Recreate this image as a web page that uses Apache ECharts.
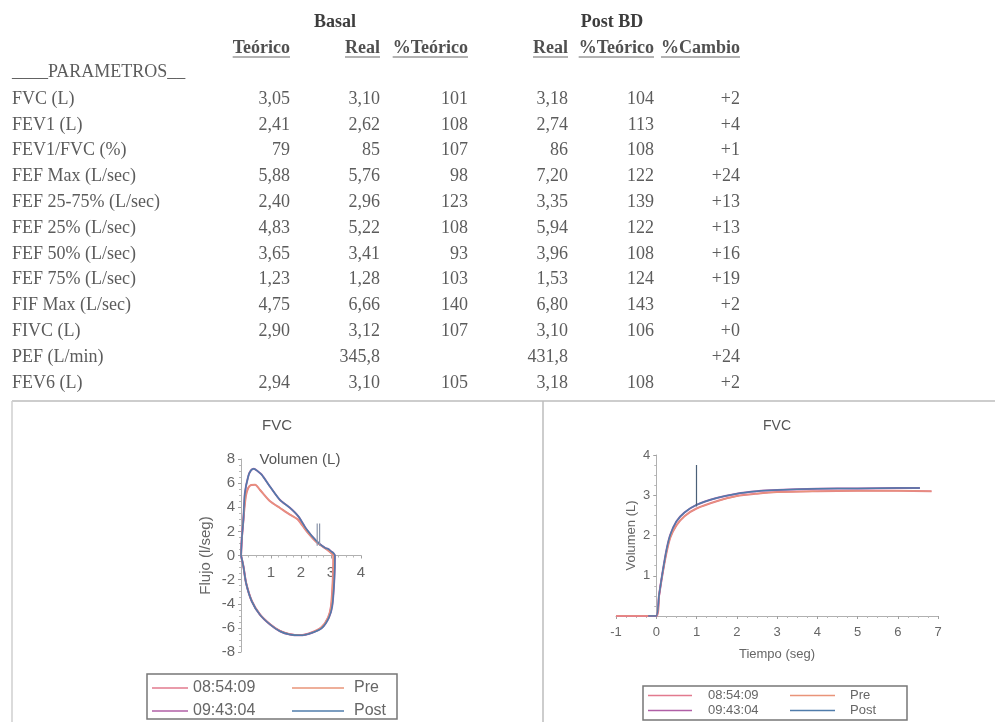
<!DOCTYPE html>
<html>
<head>
<meta charset="utf-8">
<script src="https://cdn.jsdelivr.net/npm/echarts@6/dist/echarts.min.js"></script>
<style>
html,body{margin:0;padding:0;background:#fff;}
#main{width:995px;height:722px;}
</style>
</head>
<body>
<div id="main"></div>
<script>
// tabla de parametros
var paramNames=['FVC (L)','FEV1 (L)','FEV1/FVC (%)','FEF Max (L/sec)','FEF 25-75% (L/sec)','FEF 25% (L/sec)','FEF 50% (L/sec)','FEF 75% (L/sec)','FIF Max (L/sec)','FIVC (L)','PEF (L/min)','FEV6 (L)'];
var teorico=['3,05','2,41','79','5,88','2,40','4,83','3,65','1,23','4,75','2,90','','2,94'];
var basalReal=['3,10','2,62','85','5,76','2,96','5,22','3,41','1,28','6,66','3,12','345,8','3,10'];
var basalPct=['101','108','107','98','123','108','93','103','140','107','','105'];
var postReal=['3,18','2,74','86','7,20','3,35','5,94','3,96','1,53','6,80','3,10','431,8','3,18'];
var postPct=['104','113','108','122','139','122','108','124','143','106','','108'];
var cambio=['+2','+4','+1','+24','+13','+13','+16','+19','+2','+0','+24','+2'];
var colHeaders=['Teórico','Real','%Teórico','Real','%Teórico','%Cambio'];

// curva flujo-volumen [volumen, flujo]
var preLoop=[[0,0],[0.03,1.5],[0.08,3.0],[0.16,4.9],[0.24,5.6],[0.34,5.85],[0.47,5.87],[0.63,5.45],[0.97,4.49],[1.3,3.94],[1.63,3.39],[1.9,2.97],[2.19,2.0],[2.52,1.1],[2.86,0.5],[3.06,0.08],[3.08,0],
    [3.06,-2.0],[3.0,-4.2],[2.9,-5.15],[2.68,-5.95],[2.35,-6.38],[1.97,-6.6],[1.63,-6.52],[1.3,-6.25],[0.97,-5.7],[0.63,-4.88],[0.36,-3.77],[0.17,-2.26],[0.08,-0.9],[0,0]];
var postLoop=[[0,0],[0.03,1.5],[0.08,2.97],[0.13,5.18],[0.24,6.55],[0.33,7.05],[0.43,7.2],[0.55,7.0],[0.69,6.7],[0.97,5.7],[1.3,4.6],[1.63,3.96],[1.91,3.25],[2.19,2.15],[2.52,1.18],[2.8,0.63],[2.9,0.55],[3.0,0.35],[3.08,0.2],[3.13,0],
    [3.11,-2.0],[3.04,-4.2],[2.93,-5.15],[2.7,-6.0],[2.37,-6.4],[1.97,-6.62],[1.63,-6.55],[1.3,-6.28],[0.97,-5.72],[0.63,-4.9],[0.36,-3.8],[0.17,-2.3],[0.08,-0.9],[0,0]];
var loopMark1=[[2.54,0.8],[2.54,2.65]];
var loopMark2=[[2.62,0.8],[2.62,2.65]];

// curva volumen-tiempo [tiempo, volumen]
var preVT=[[-1,0],[0,0],[0.07,0.5],[0.14,0.95],[0.25,1.55],[0.35,1.95],[0.5,2.25],[0.7,2.48],[1.0,2.67],[1.5,2.85],[2.0,2.98],[2.5,3.04],[3.0,3.08],[4.0,3.1],[5.0,3.11],[6.0,3.11],[6.84,3.1]];
var postVT=[[-0.2,0],[0,0],[0.07,0.52],[0.14,0.98],[0.25,1.62],[0.35,2.02],[0.5,2.35],[0.7,2.57],[1.0,2.76],[1.5,2.93],[2.0,3.04],[2.5,3.1],[3.0,3.13],[4.0,3.16],[5.0,3.17],[6.0,3.18],[6.55,3.18]];
var fev1Mark=[[1,2.72],[1,3.75]];

var colors={'08:54:09':'#e27a8e','09:43:04':'#b05fa6','Pre':'#e99479','Post':'#4f7cab'};

var serif='"Liberation Serif", "Times New Roman", serif';
var sans='"Liberation Sans", Arial, sans-serif';
var tableColor='#5c5c5c';

var ctx=document.createElement('canvas').getContext('2d');
function textWidth(t,font){ctx.font=font;return ctx.measureText(t).width;}

function txt(t,x,y,opt){
    opt=opt||{};
    return {
        type:'text',x:x,y:y,silent:true,
        style:{
            text:t,
            align:opt.align||'left',
            verticalAlign:'middle',
            fontFamily:opt.family||serif,
            fontSize:opt.size||18,
            fontWeight:opt.weight||'normal',
            fill:opt.color||tableColor
        }
    };
}
function line(x1,y1,x2,y2,color,w){
    return {type:'line',silent:true,shape:{x1:x1,y1:y1,x2:x2,y2:y2},style:{stroke:color,lineWidth:w}};
}

var graphic=[];
var colRight=[290,380,468,568,654,740];
var headY=48;
graphic.push(txt('Basal',335,22,{align:'center',weight:'bold',color:'#3c3c3c'}));
graphic.push(txt('Post BD',612,22,{align:'center',weight:'bold',color:'#3c3c3c'}));
colHeaders.forEach(function(h,i){
    graphic.push(txt(h,colRight[i],headY,{align:'right',weight:'bold',color:'#505050'}));
    var w=textWidth(h,'bold 18px '+serif);
    graphic.push(line(colRight[i]-w,headY+9,colRight[i],headY+9,'#666',1));
});
graphic.push(txt('____PARAMETROS__',12,72));
var cols=[teorico,basalReal,basalPct,postReal,postPct,cambio];
paramNames.forEach(function(p,r){
    var y=99+r*25.8;
    graphic.push(txt(p,12,y));
    cols.forEach(function(c,i){
        if(c[r]) graphic.push(txt(c[r],colRight[i],y,{align:'right'}));
    });
});
// marcos de los paneles
graphic.push(line(12,401,995,401,'#bdbdbd',1.5));
graphic.push(line(12,401,12,722,'#cfcfcf',1.5));
graphic.push(line(543,401,543,722,'#bdbdbd',1.5));
graphic.push(txt('FVC',277,426,{align:'center',family:sans,size:15,color:'#555'}));
graphic.push(txt('FVC',777,426,{align:'center',family:sans,size:14,color:'#555'}));
graphic.push(txt('Volumen (L)',300,460,{align:'center',family:sans,size:15,color:'#555'}));
// cajas de leyenda
graphic.push({type:'rect',silent:true,shape:{x:147,y:674,width:250,height:45},style:{fill:'none',stroke:'#777',lineWidth:1.5}});
graphic.push({type:'rect',silent:true,shape:{x:643,y:686,width:264,height:34},style:{fill:'none',stroke:'#777',lineWidth:1.5}});

function curve(name,data,xi,width,z){
    return {
        name:name,type:'line',xAxisIndex:xi,yAxisIndex:xi,data:data,
        symbol:'none',smooth:0.25,z:z,silent:true,
        itemStyle:{color:colors[name]},
        lineStyle:{color:colors[name],width:width}
    };
}
function marker(name,data,xi,color){
    return {
        name:name,type:'line',xAxisIndex:xi,yAxisIndex:xi,data:data,
        symbol:'none',silent:true,z:5,
        lineStyle:{color:color,width:1.2}
    };
}

function axisBase(size){
    return {
        type:'value',
        splitLine:{show:false},
        axisLine:{onZero:false,lineStyle:{color:'#b0b0b0',width:1}},
        axisTick:{show:true,length:3,lineStyle:{color:'#a0a0a0'}},
        minorTick:{show:true,splitNumber:4,length:2,lineStyle:{color:'#b8b8b8'}},
        axisLabel:{color:'#666',fontFamily:sans,fontSize:size},
        nameTextStyle:{color:'#666',fontFamily:sans,fontSize:size}
    };
}

// eje x del panel izquierdo cruza en flujo 0 (mitad del grid)
var xL=axisBase(15);
xL.gridIndex=0;xL.min=0;xL.max=4;xL.interval=1;xL.offset=-96.5;
xL.axisLabel.showMinLabel=false;xL.axisLabel.margin=10;
var yL=axisBase(15);
yL.gridIndex=0;yL.min=-8;yL.max=8;yL.interval=2;
yL.axisLabel.margin=6;
yL.name='Flujo (l/seg)';yL.nameLocation='middle';yL.nameGap=28;yL.nameRotate=90;

// eje y del panel derecho cruza en tiempo 0
var xR=axisBase(13);
xR.gridIndex=1;xR.min=-1;xR.max=7;xR.interval=1;
xR.axisLabel.margin=10;
xR.name='Tiempo (seg)';xR.nameLocation='middle';xR.nameGap=32;
var yR=axisBase(13);
yR.gridIndex=1;yR.min=0;yR.max=4;yR.interval=1;yR.offset=-40.25;
yR.axisLabel.showMinLabel=false;yR.axisLabel.margin=6;
yR.name='Volumen (L)';yR.nameLocation='middle';yR.nameGap=18;yR.nameRotate=90;

function legendBox(names,left,top,itemW,size,lh,gap,pad){
    return {
        data:names,orient:'vertical',left:left,top:top,height:60,padding:0,
        icon:'rect',itemWidth:itemW,itemHeight:1.5,itemGap:gap,
        selectedMode:false,
        textStyle:{color:'#666',fontFamily:sans,fontSize:size,lineHeight:lh,padding:[0,0,0,pad]}
    };
}

var option={
    animation:false,
    backgroundColor:'#fff',
    grid:[
        {left:241,top:459,width:120,height:193},
        {left:616,top:455,width:322,height:161}
    ],
    xAxis:[xL,xR],
    yAxis:[yL,yR],
    legend:[
        legendBox(['08:54:09','09:43:04'],152,680,36,16,16,7,0),
        legendBox(['Pre','Post'],292,680,52,16,16,7,5),
        legendBox(['08:54:09','09:43:04'],648,689,44,13,13,2,11),
        legendBox(['Pre','Post'],790,689,45,13,13,2,10)
    ],
    series:[
        curve('08:54:09',preLoop,0,2,2),
        curve('09:43:04',postLoop,0,2,2),
        curve('Pre',preLoop,0,1.2,3),
        curve('Post',postLoop,0,1.5,3),
        marker('m1',loopMark1,0,'#8a95aa'),
        marker('m2',loopMark2,0,'#8a95aa'),
        curve('08:54:09',preVT,1,2,2),
        curve('09:43:04',postVT,1,2,2),
        curve('Pre',preVT,1,1.2,3),
        curve('Post',postVT,1,1.5,3),
        marker('fev1',fev1Mark,1,'#4a6078')
    ],
    graphic:graphic
};

var chart=echarts.init(document.getElementById('main'),null,{renderer:'canvas'});
chart.setOption(option);
</script>
</body>
</html>
